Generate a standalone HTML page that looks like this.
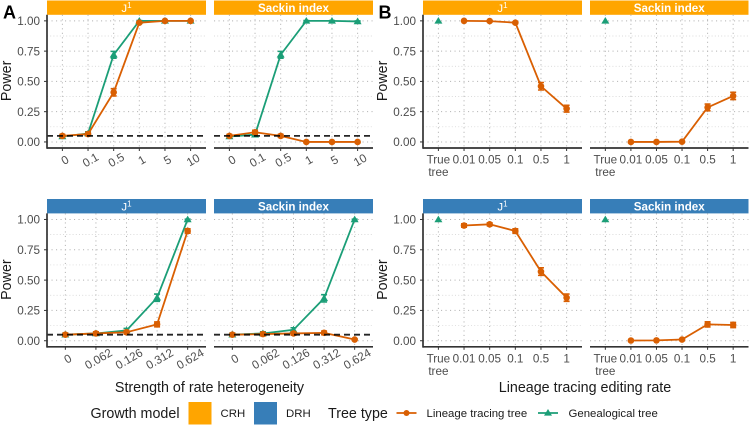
<!DOCTYPE html>
<html lang="en">
<head>
<meta charset="utf-8">
<title>Power by rate heterogeneity and editing rate</title>
<style>
html,body{margin:0;padding:0;background:#fff;}
svg{display:block;font-family:"Liberation Sans",Arial,sans-serif;}
</style>
</head>
<body>
<svg id="chart" width="749" height="425" viewBox="0 0 749 425" xmlns="http://www.w3.org/2000/svg">
  <rect width="749" height="425" fill="#fff"/>
  <text x="3" y="18.5" font-size="18" font-weight="bold" fill="#000">A</text>
  <text x="378.5" y="18.5" font-size="18" font-weight="bold" fill="#000">B</text>
  <text x="209.5" y="392" font-size="14.3" text-anchor="middle" fill="#1a1a1a">Strength of rate heterogeneity</text>
  <text x="585" y="392" font-size="14.3" text-anchor="middle" fill="#1a1a1a">Lineage tracing editing rate</text>

  <g>
    <text x="90.5" y="418" font-size="14.3" fill="#1a1a1a">Growth model</text>
    <rect x="188.5" y="402" width="23" height="22.5" fill="#FFA500"/>
    <text x="220.5" y="417" font-size="11.4" fill="#1a1a1a">CRH</text>
    <rect x="254" y="402" width="23" height="22.5" fill="#377EB8"/>
    <text x="286" y="417" font-size="11.4" fill="#1a1a1a">DRH</text>
    <text x="328" y="418" font-size="14.3" fill="#1a1a1a">Tree type</text>
    <g>
      <line x1="396.5" x2="416.5" y1="413" y2="413" stroke="#D95F02" stroke-width="1.8"/>
      <circle cx="406.5" cy="413" r="3" fill="#D95F02"/>
    </g>
    <text x="426.5" y="417" font-size="11.4" fill="#1a1a1a">Lineage tracing tree</text>
    <g>
      <line x1="538" x2="558" y1="413" y2="413" stroke="#1B9E77" stroke-width="1.8"/>
      <path d="M548 409 L552 415.6 L544 415.6 Z" fill="#1B9E77"/>
    </g>
    <text x="568.5" y="417" font-size="11.4" fill="#1a1a1a">Genealogical tree</text>
  </g>
</svg>
<script>
// ---- Categories and tick labels ----
var crhRates = ['0', '0.1', '0.5', '1', '5', '10'];
var drhRates = ['0', '0.062', '0.126', '0.312', '0.624'];
var editRates = ['True tree', '0.01', '0.05', '0.1', '0.5', '1'];
var yTicks = [0, 0.25, 0.5, 0.75, 1];
var yMinorTicks = [0.125, 0.375, 0.625, 0.875];
var nullLevel = 0.05;

// ---- Panel A, CRH ----
var aCrhJ1Lineage = [0.05, 0.065, 0.41, 0.985, 1, 1];
var aCrhJ1LineageErr = [0.012, 0.014, 0.03, 0.006, 0.002, 0.002];
var aCrhJ1Genealogical = [0.045, 0.07, 0.72, 1, 1, 1];
var aCrhJ1GenealogicalErr = [0.012, 0.014, 0.028, 0.002, 0.002, 0.002];
var aCrhSackinLineage = [0.05, 0.08, 0.05, 0, 0, 0];
var aCrhSackinLineageErr = [0.012, 0.016, 0.012, 0.002, 0.002, 0.002];
var aCrhSackinGenealogical = [0.045, 0.06, 0.72, 1, 1, 0.995];
var aCrhSackinGenealogicalErr = [0.012, 0.014, 0.028, 0.002, 0.002, 0.004];

// ---- Panel A, DRH ----
var aDrhJ1Lineage = [0.05, 0.06, 0.07, 0.135, 0.905];
var aDrhJ1LineageErr = [0.012, 0.014, 0.015, 0.02, 0.018];
var aDrhJ1Genealogical = [0.05, 0.06, 0.085, 0.355, 1];
var aDrhJ1GenealogicalErr = [0.012, 0.014, 0.017, 0.03, 0.002];
var aDrhSackinLineage = [0.05, 0.055, 0.06, 0.065, 0.01];
var aDrhSackinLineageErr = [0.012, 0.014, 0.014, 0.015, 0.006];
var aDrhSackinGenealogical = [0.05, 0.06, 0.09, 0.35, 1];
var aDrhSackinGenealogicalErr = [0.012, 0.014, 0.017, 0.03, 0.002];

// ---- Panel B, CRH ----
var bCrhJ1Lineage = [null, 1, 0.998, 0.985, 0.46, 0.275];
var bCrhJ1LineageErr = [null, 0.002, 0.003, 0.007, 0.031, 0.028];
var bCrhJ1Genealogical = [1, null, null, null, null, null];
var bCrhSackinLineage = [null, 0, 0, 0.002, 0.285, 0.38];
var bCrhSackinLineageErr = [null, 0.002, 0.002, 0.003, 0.028, 0.03];
var bCrhSackinGenealogical = [1, null, null, null, null, null];

// ---- Panel B, DRH ----
var bDrhJ1Lineage = [null, 0.95, 0.96, 0.905, 0.57, 0.355];
var bDrhJ1LineageErr = [null, 0.014, 0.012, 0.018, 0.031, 0.03];
var bDrhJ1Genealogical = [1, null, null, null, null, null];
var bDrhSackinLineage = [null, 0.002, 0.003, 0.01, 0.135, 0.13];
var bDrhSackinLineageErr = [null, 0.002, 0.003, 0.006, 0.021, 0.021];
var bDrhSackinGenealogical = [1, null, null, null, null, null];

var COLORS = { lineage: '#D95F02', genealogical: '#1B9E77', crh: '#FFA500', drh: '#377EB8' };
var svg = document.getElementById('chart');
var NS = 'http://www.w3.org/2000/svg';

function make(parent, tag, attrs) {
  var el = document.createElementNS(NS, tag);
  for (var k in attrs) { el.setAttribute(k, attrs[k]); }
  parent.appendChild(el);
  return el;
}

function drawSeries(g, name, values, errs, color, shape, xScale, yScale) {
  var pts = [];
  values.forEach(function (v, i) { if (v !== null) { pts.push([xScale(i), yScale(v)]); } });
  if (pts.length > 1) {
    var line = make(g, 'polyline', { points: pts.map(function (p) { return p[0] + ',' + p[1]; }).join(' '), fill: 'none', stroke: color, 'stroke-width': 1.8 });
    
    
  }
  values.forEach(function (v, i) {
    if (v === null) { return; }
    var cx = xScale(i), cy = yScale(v), e = errs ? errs[i] : 0;
    if (e) {
      var top = yScale(v + e), bot = yScale(v - e);
      var bar = make(g, 'path', {
        d: 'M' + (cx - 3) + ' ' + top + 'H' + (cx + 3) + 'M' + cx + ' ' + top + 'V' + bot + 'M' + (cx - 3) + ' ' + bot + 'H' + (cx + 3),
        fill: 'none', stroke: color, 'stroke-width': 1.6
      });
      
      
    }
    var mark;
    if (shape === 'circle') {
      mark = make(g, 'circle', { cx: cx, cy: cy, r: 3.3, fill: color });
    } else {
      mark = make(g, 'path', { d: 'M' + cx + ' ' + (cy - 3.9) + 'L' + (cx + 4) + ' ' + (cy + 2.8) + 'L' + (cx - 4) + ' ' + (cy + 2.8) + 'Z', fill: color });
    }
    
    
  });
}

function drawPanel(p) {
  var g = make(svg, 'g', {});
  
  
  var n = p.cats.length;
  var unit = (p.right - p.left) / (n - 1 + 1.2);
  function xScale(i) { return p.left + (i + 0.6) * unit; }
  function yScale(v) { return p.bottom - (v + 0.05) / 1.1 * (p.bottom - p.top); }

  // strip
  var strip = make(g, 'rect', { x: p.left, y: p.stripTop, width: p.right - p.left, height: p.top - p.stripTop, fill: p.stripColor });
  
  
  var stripText = make(g, 'text', { x: (p.left + p.right) / 2, y: p.top - 3, 'text-anchor': 'middle', 'font-size': p.isJ ? 11.4 : 11.6, 'font-weight': p.isJ ? 'normal' : 'bold', fill: '#fff' });
  
  
  if (p.isJ) {
    stripText.textContent = 'J';
    var sup = make(stripText, 'tspan', { dy: -4, 'font-size': 8 });
    sup.textContent = '1';
  } else {
    stripText.textContent = 'Sackin index';
  }

  // grid
  yMinorTicks.forEach(function (t) {
    var l = make(g, 'line', { x1: p.left, x2: p.right, y1: yScale(t), y2: yScale(t), stroke: '#cfcfcf', 'stroke-width': 0.7, 'stroke-dasharray': '1 2.2' });
    
    
  });
  yTicks.forEach(function (t) {
    var l = make(g, 'line', { x1: p.left, x2: p.right, y1: yScale(t), y2: yScale(t), stroke: '#b4b4b4', 'stroke-width': 1, 'stroke-dasharray': '1.1 3.4' });
    
    
  });
  p.cats.forEach(function (c, i) {
    var l = make(g, 'line', { x1: xScale(i), x2: xScale(i), y1: p.top, y2: p.bottom, stroke: '#b4b4b4', 'stroke-width': 1, 'stroke-dasharray': '1.1 3.4' });
    
    
  });

  // series
  if (p.genealogical) {
    drawSeries(g, p.name + '-genealogical', p.genealogical, p.genealogicalErr, COLORS.genealogical, 'triangle', xScale, yScale);
  }
  drawSeries(g, p.name + '-lineage', p.lineage, p.lineageErr, COLORS.lineage, 'circle', xScale, yScale);

  // null reference line
  if (p.showNull) {
    var ref = make(g, 'line', { x1: p.left, x2: p.right, y1: yScale(nullLevel), y2: yScale(nullLevel), stroke: '#000', 'stroke-width': 1.8, 'stroke-dasharray': '6 4', opacity: 0.85 });
    
    
  }

  // axes
  var xAxis = make(g, 'line', { x1: p.left, x2: p.right, y1: p.bottom, y2: p.bottom, stroke: '#333', 'stroke-width': 1.7 });
  
  
  p.cats.forEach(function (c, i) {
    var tick = make(g, 'line', { x1: xScale(i), x2: xScale(i), y1: p.bottom, y2: p.bottom + 3, stroke: '#333', 'stroke-width': 1 });
    
    
    var lbl;
    if (p.rotate) {
      lbl = make(g, 'text', { transform: 'translate(' + (xScale(i) + 2.5) + ' ' + (p.bottom + 12) + ') rotate(-30)', y: 4, 'text-anchor': 'middle', 'font-size': 11.7, fill: '#4d4d4d' });
      lbl.textContent = c;
    } else {
      lbl = make(g, 'text', { x: xScale(i), y: p.bottom + 15.5, 'text-anchor': 'middle', 'font-size': 11.7, fill: '#4d4d4d' });
      var parts = c.split(' ');
      parts.forEach(function (part, k) {
        var sp = make(lbl, 'tspan', { x: xScale(i), dy: k === 0 ? 0 : 12.6 });
        sp.textContent = part;
      });
    }
    
    
  });

  if (p.showY) {
    var yAxis = make(g, 'line', { x1: p.left, x2: p.left, y1: p.top, y2: p.bottom + 0.8, stroke: '#333', 'stroke-width': 1.7 });
    
    
    yTicks.forEach(function (t) {
      var tick = make(g, 'line', { x1: p.left - 3, x2: p.left, y1: yScale(t), y2: yScale(t), stroke: '#333', 'stroke-width': 1 });
      
      
      var lbl = make(g, 'text', { x: p.left - 7, y: yScale(t) + 4.2, 'text-anchor': 'end', 'font-size': 11.7, fill: '#4d4d4d' });
      
      
      lbl.textContent = t.toFixed(2);
    });
    var cy = (p.top + p.bottom) / 2 - 0.5;
    var title = make(g, 'text', { transform: 'translate(' + (p.left - 36) + ' ' + cy + ') rotate(-90)', 'text-anchor': 'middle', 'font-size': 14.3, fill: '#1a1a1a' });
    
    
    title.textContent = 'Power';
  }
}

var row1 = { stripTop: 0.5, top: 14.8, bottom: 148 };
var row2 = { stripTop: 199, top: 213.4, bottom: 346.8 };
var colA1 = { left: 47, right: 206 };
var colA2 = { left: 214, right: 373 };
var colB1 = { left: 423, right: 582 };
var colB2 = { left: 590, right: 748.5 };

function panel(name, row, col, stripColor, isJ, showY, showNull, rotate, cats, lineage, lineageErr, genealogical, genealogicalErr) {
  drawPanel({
    name: name, stripTop: row.stripTop, top: row.top, bottom: row.bottom, left: col.left, right: col.right,
    stripColor: stripColor, isJ: isJ, showY: showY, showNull: showNull, rotate: rotate, cats: cats,
    lineage: lineage, lineageErr: lineageErr, genealogical: genealogical, genealogicalErr: genealogicalErr
  });
}

panel('panel-a-crh-j1', row1, colA1, COLORS.crh, true, true, true, true, crhRates, aCrhJ1Lineage, aCrhJ1LineageErr, aCrhJ1Genealogical, aCrhJ1GenealogicalErr);
panel('panel-a-crh-sackin', row1, colA2, COLORS.crh, false, false, true, true, crhRates, aCrhSackinLineage, aCrhSackinLineageErr, aCrhSackinGenealogical, aCrhSackinGenealogicalErr);
panel('panel-a-drh-j1', row2, colA1, COLORS.drh, true, true, true, true, drhRates, aDrhJ1Lineage, aDrhJ1LineageErr, aDrhJ1Genealogical, aDrhJ1GenealogicalErr);
panel('panel-a-drh-sackin', row2, colA2, COLORS.drh, false, false, true, true, drhRates, aDrhSackinLineage, aDrhSackinLineageErr, aDrhSackinGenealogical, aDrhSackinGenealogicalErr);
panel('panel-b-crh-j1', row1, colB1, COLORS.crh, true, true, false, false, editRates, bCrhJ1Lineage, bCrhJ1LineageErr, bCrhJ1Genealogical, null);
panel('panel-b-crh-sackin', row1, colB2, COLORS.crh, false, false, false, false, editRates, bCrhSackinLineage, bCrhSackinLineageErr, bCrhSackinGenealogical, null);
panel('panel-b-drh-j1', row2, colB1, COLORS.drh, true, true, false, false, editRates, bDrhJ1Lineage, bDrhJ1LineageErr, bDrhJ1Genealogical, null);
panel('panel-b-drh-sackin', row2, colB2, COLORS.drh, false, false, false, false, editRates, bDrhSackinLineage, bDrhSackinLineageErr, bDrhSackinGenealogical, null);
</script>
</body>
</html>
